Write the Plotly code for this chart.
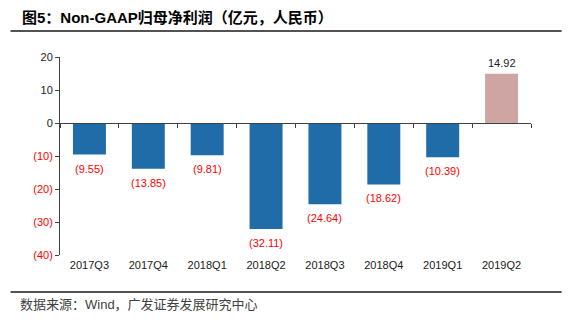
import plotly.graph_objects as go

categories = ["2017Q3", "2017Q4", "2018Q1", "2018Q2", "2018Q3", "2018Q4", "2019Q1", "2019Q2"]
values = [-9.55, -13.85, -9.81, -32.11, -24.64, -18.62, -10.39, 14.92]
y_ticks = [20, 10, 0, -10, -20, -30, -40]

def fmt(v):
    return f"({abs(v):.2f})" if v < 0 else f"{v:.2f}"

def fmt_tick(v):
    if v < 0:
        return f"<span style='fill:#FF0000'>({abs(v)})</span>"
    return str(v)

bar_colors = ["#1F6CA8" if v < 0 else "#CFA5A3" for v in values]
text_colors = ["#FF0000" if v < 0 else "#1A1A1A" for v in values]

FONT = "Liberation Sans, Arial, Noto Sans CJK SC, sans-serif"

fig = go.Figure()
fig.add_trace(go.Bar(
    x=categories, y=values, marker_color=bar_colors, marker_line_width=0,
    width=0.56, showlegend=False, hoverinfo="skip",
))
# invisible trace for the zero-line axis with boundary ticks
fig.add_trace(go.Scatter(x=categories, y=[0]*len(categories), xaxis="x2",
                         mode="markers", marker=dict(opacity=0), showlegend=False,
                         hoverinfo="skip"))

label_annots = [
    dict(x=c, y=v, xref="x", yref="y", text=fmt(v), showarrow=False,
         yanchor="middle", yshift=(-14 if v < 0 else 11),
         font=dict(size=11, color=col, family=FONT))
    for c, v, col in zip(categories, values, text_colors)
]

ymin, ymax = -40, 20
fig.update_layout(
    width=572, height=326,
    margin=dict(l=60, r=41, t=57, b=71),
    paper_bgcolor="white", plot_bgcolor="white",
    font=dict(family=FONT, size=11, color="#1A1A1A"),
    bargap=0.44,
    xaxis=dict(type="category", showline=False, ticks="", showgrid=False,
               tickfont=dict(size=11, color="#1A1A1A"), ticklabelstandoff=2),
    xaxis2=dict(type="category", overlaying="x", anchor="free",
                position=(0 - ymin) / (ymax - ymin), side="bottom",
                showline=True, linecolor="#404040", linewidth=1,
                ticks="outside", tickson="boundaries", ticklen=4,
                tickcolor="#404040", showticklabels=False, showgrid=False,
                matches="x"),
    yaxis=dict(range=[ymin, ymax], tickvals=y_ticks,
               ticktext=[fmt_tick(v) for v in y_ticks],
               showline=True, linecolor="#404040", linewidth=1,
               ticks="outside", ticklen=4, tickcolor="#404040",
               showgrid=False, zeroline=False,
               tickfont=dict(size=11, color="#1A1A1A")),
    shapes=[
        dict(type="line", xref="paper", yref="paper", x0=-0.105, x1=1.065,
             y0=1.0 + 26/198, y1=1.0 + 26/198, line=dict(color="#1A1A1A", width=1.5)),
        dict(type="line", xref="paper", yref="paper", x0=-0.105, x1=1.065,
             y0=-37/198, y1=-37/198, line=dict(color="#1A1A1A", width=1.5)),
    ],
    annotations=label_annots + [
        dict(text="<b>图5：Non-GAAP归母净利润（亿元，人民币）</b>", xref="paper", yref="paper",
             x=-0.085, y=1.0 + 40/198, xanchor="left", yanchor="middle", showarrow=False,
             font=dict(size=15, color="#000000", family=FONT)),
        dict(text="数据来源：Wind，广发证券发展研究中心", xref="paper", yref="paper",
             x=-0.09, y=-49/198, xanchor="left", yanchor="middle", showarrow=False,
             font=dict(size=13, color="#404040", family=FONT)),
    ],
)

fig.write_html("out.html")
